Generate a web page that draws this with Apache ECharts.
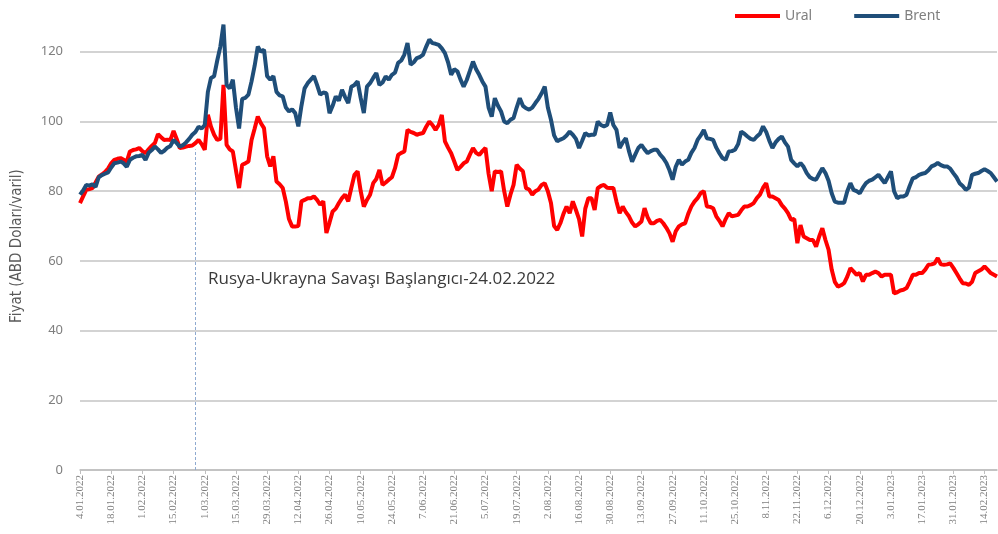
<!DOCTYPE html>
<html>
<head>
<meta charset="utf-8">
<script src="https://cdn.jsdelivr.net/npm/echarts@6/dist/echarts.min.js"></script>
<style>
  html, body { margin: 0; padding: 0; background: #fff; }
  #chart { width: 998px; height: 534px; }
</style>
</head>
<body>
<div id="chart"></div>
<script>
// Ural ve Brent günlük fiyatları (ABD Doları/varil), 4.01.2022'den itibaren iş günleri
const ural = [
  76.6, 78.5, 80.4, 80.6, 80.9, 82.5, 84.2, 84.8, 85.5, 86.5,
  88.0, 89.0, 89.3, 89.5, 89.0, 88.5, 91.4, 91.8, 92.0, 92.4,
  91.5, 90.9, 92.0, 93.0, 93.8, 96.4, 95.5, 94.7, 94.8, 94.7,
  97.3, 95.0, 92.4, 92.5, 92.8, 93.0, 93.1, 93.8, 94.7, 93.5,
  91.9, 101.9, 98.5, 96.2, 94.7, 95.0, 110.5, 93.3, 92.0, 91.4,
  86.0, 80.9, 87.6, 88.0, 88.5, 94.7, 98.0, 101.4, 99.5, 98.1,
  90.0, 87.1, 90.0, 82.8, 82.0, 80.9, 77.0, 72.0, 69.9, 69.9,
  70.0, 77.1, 77.5, 78.0, 78.0, 78.5, 77.5, 76.1, 77.1, 68.0,
  71.0, 74.2, 75.0, 76.6, 78.0, 79.0, 77.1, 81.0, 84.7, 85.7,
  80.0, 75.6, 77.5, 79.0, 82.3, 83.5, 86.1, 81.8, 82.5, 83.3,
  84.0, 86.6, 90.4, 91.0, 91.4, 97.6, 97.0, 96.7, 96.2, 96.5,
  96.7, 98.5, 100.0, 99.0, 97.6, 99.0, 101.9, 94.3, 92.5, 90.9,
  88.5, 86.1, 87.0, 88.0, 88.5, 90.5, 92.4, 91.0, 90.4, 91.5,
  92.4, 85.0, 80.0, 85.7, 85.5, 85.7, 80.0, 75.6, 79.0, 81.8,
  87.6, 86.5, 85.7, 80.9, 80.5, 79.0, 80.0, 80.5, 81.8, 82.3,
  80.0, 76.6, 70.0, 68.9, 70.8, 73.5, 75.6, 73.7, 77.1, 74.6,
  72.0, 67.0, 75.0, 78.0, 78.0, 74.6, 80.9, 81.5, 81.8, 81.0,
  80.9, 80.9, 77.0, 73.7, 75.6, 74.0, 72.8, 71.0, 69.9, 70.5,
  71.3, 75.1, 72.5, 70.8, 70.8, 71.5, 71.8, 70.8, 69.5, 67.9,
  65.5, 68.5, 69.9, 70.5, 70.8, 73.5, 75.6, 77.0, 78.0, 79.5,
  80.0, 75.6, 75.5, 75.1, 72.8, 71.5, 69.9, 72.0, 73.7, 72.8,
  73.0, 73.2, 74.5, 75.6, 75.6, 76.0, 76.6, 78.0, 79.0, 81.0,
  82.3, 78.5, 78.5, 78.0, 77.5, 76.0, 75.0, 73.7, 71.8, 72.0,
  65.1, 70.3, 67.0, 66.5, 66.0, 66.0, 64.1, 67.0, 69.4, 66.0,
  63.2, 57.5, 54.0, 52.6, 53.0, 53.6, 55.5, 57.9, 57.0, 56.0,
  56.5, 54.1, 56.0, 56.0, 56.5, 56.9, 56.5, 55.5, 56.0, 56.0,
  56.0, 50.7, 51.0, 51.5, 51.7, 52.2, 54.0, 56.0, 56.0, 56.5,
  56.5, 57.5, 58.9, 59.0, 59.3, 60.8, 59.0, 58.9, 59.0, 59.3,
  58.0, 56.5, 55.0, 53.6, 53.5, 53.1, 54.0, 56.5, 57.0, 57.5,
  58.4, 57.5, 56.5, 56.0, 55.5
];

const brent = [
  79.0, 80.2, 81.8, 81.6, 82.0, 81.2, 84.0, 84.6, 85.0, 85.4,
  86.8, 88.0, 88.2, 88.5, 88.0, 87.0, 89.0, 89.6, 90.0, 90.1,
  90.4, 89.0, 91.0, 91.8, 92.8, 92.0, 91.0, 91.6, 92.5, 93.0,
  94.7, 93.8, 92.8, 93.2, 94.0, 95.0, 96.2, 97.0, 98.5, 98.0,
  99.0, 108.5, 112.5, 113.0, 117.5, 121.5, 127.8, 110.5, 109.5, 112.0,
  104.0, 98.0, 106.5, 106.8, 107.7, 111.5, 116.0, 121.5, 120.0, 120.6,
  113.0, 112.0, 113.0, 108.5, 107.5, 107.2, 104.0, 102.9, 103.5, 102.4,
  98.6, 104.5, 109.5, 111.0, 112.0, 113.0, 110.5, 107.7, 108.3, 108.1,
  102.4, 104.5, 107.2, 106.0, 109.1, 107.0, 105.3, 110.0, 110.5, 111.5,
  106.7, 102.4, 110.0, 111.0, 112.5, 113.9, 110.5, 111.2, 112.9, 112.0,
  113.4, 114.0, 116.8, 117.5, 119.2, 122.5, 116.3, 117.0, 118.2, 118.5,
  119.2, 121.5, 123.5, 122.5, 122.3, 122.0, 121.0, 119.6, 117.0, 113.4,
  115.0, 114.4, 112.0, 110.0, 111.9, 114.5, 117.2, 115.0, 113.4, 111.5,
  110.0, 104.0, 101.4, 106.7, 104.5, 102.9, 100.0, 99.5, 100.5, 101.0,
  104.0, 106.7, 104.5, 103.8, 103.4, 104.0, 105.3, 106.5, 108.1, 110.0,
  104.0, 100.5, 96.0, 94.3, 94.8, 95.2, 96.0, 97.1, 96.2, 95.0,
  92.4, 94.5, 96.7, 96.0, 96.2, 96.2, 100.0, 99.0, 98.6, 99.0,
  102.6, 99.0, 97.6, 92.4, 94.0, 95.2, 91.5, 88.5, 90.5, 92.4,
  93.3, 92.0, 90.9, 91.5, 91.9, 91.9, 90.5, 89.5, 88.1, 86.0,
  83.3, 87.0, 89.0, 87.6, 88.5, 89.0, 91.0, 92.4, 94.7, 96.0,
  97.6, 95.2, 95.0, 94.7, 92.5, 90.9, 89.5, 89.0, 91.4, 91.5,
  91.9, 93.5, 97.1, 96.5, 95.7, 95.0, 94.7, 95.7, 96.5, 98.6,
  97.0, 94.5, 92.4, 94.0, 95.0, 95.7, 94.0, 92.8, 89.0, 88.0,
  87.1, 88.1, 87.0, 85.2, 84.0, 83.5, 83.3, 85.0, 86.6, 85.2,
  83.0, 79.4, 77.0, 76.7, 76.7, 76.7, 80.0, 82.3, 80.4, 80.0,
  79.4, 81.0, 82.3, 83.0, 83.3, 84.0, 84.7, 83.5, 82.3, 84.0,
  85.7, 80.0, 78.0, 78.5, 78.5, 79.0, 81.5, 83.7, 84.0, 84.7,
  85.0, 85.2, 86.0, 87.1, 87.5, 88.1, 87.5, 87.1, 87.1, 86.5,
  85.2, 84.0, 82.3, 81.5, 80.4, 81.0, 84.7, 85.0, 85.2, 85.8,
  86.3, 85.8, 85.2, 84.0, 82.8
];

// tarih etiketleri: 4.01.2022'den başlayan iş günleri
const firstDay = new Date(2022, 0, 4);
const dates = [];
for (let d = new Date(firstDay); dates.length < brent.length; d.setDate(d.getDate() + 1)) {
  const wd = d.getDay();
  if (wd === 0 || wd === 6) continue;
  dates.push(d.getDate() + "." + String(d.getMonth() + 1).padStart(2, "0") + "." + d.getFullYear());
}

const warStart = "24.02.2022";
const warLabel = "Rusya-Ukrayna Savaşı Başlangıcı-24.02.2022";
const yTitle = "Fiyat (ABD Doları/varil)";

const chart = echarts.init(document.getElementById("chart"));

chart.setOption({
  animation: false,
  grid: { left: 80, right: 1, top: 3, bottom: 64 },
  legend: {
    left: 730,
    top: 4,
    icon: "rect",
    itemWidth: 45,
    itemHeight: 4,
    itemGap: 42,
    textStyle: { fontSize: 14, color: "#7f7f7f", fontFamily: "Noto Sans" },
    data: ["Ural", "Brent"]
  },
  xAxis: {
    type: "category",
    data: dates,
    boundaryGap: false,
    axisLine: { lineStyle: { color: "#bfbfbf", width: 1.5 } },
    axisTick: { interval: 9, length: 4, lineStyle: { color: "#bfbfbf" } },
    axisLabel: {
      interval: 9,
      rotate: 90,
      margin: 5,
      fontSize: 11,
      fontFamily: "Liberation Serif",
      color: "#7f7f7f"
    },
    splitLine: { show: false }
  },
  yAxis: {
    type: "value",
    min: 0,
    max: 134,
    interval: 20,
    axisLine: { show: false },
    axisTick: { show: false },
    axisLabel: { showMaxLabel: false, margin: 17, fontSize: 13, color: "#7f7f7f", fontFamily: "Noto Sans" },
    splitLine: { showMaxLine: false, lineStyle: { color: "#c4c4c4", width: 1.5 } }
  },
  series: [
    {
      name: "Ural",
      type: "line",
      data: ural,
      showSymbol: false,
      lineStyle: { width: 4, color: "#ff0000" },
      itemStyle: { color: "#ff0000" },
      markLine: {
        silent: true,
        symbol: "none",
        label: { show: false },
        lineStyle: { color: "#8faad0", width: 1, type: [3, 2] },
        data: [[{ coord: [warStart, 0] }, { coord: [warStart, 92] }]]
      }
    },
    {
      name: "Brent",
      type: "line",
      data: brent,
      showSymbol: false,
      lineStyle: { width: 4, color: "#1f4e79" },
      itemStyle: { color: "#1f4e79" }
    }
  ],
  graphic: [
    {
      type: "text",
      x: 208,
      y: 271,
      style: {
        text: warLabel,
        font: "17px 'Open Sans'",
        fill: "#3a3a3a"
      }
    },
    {
      type: "text",
      x: 17,
      y: 246,
      rotation: Math.PI / 2,
      style: {
        text: yTitle,
        font: "15px 'Liberation Sans Narrow', 'DejaVu Sans Condensed'",
        fill: "#595959",
        align: "center",
        verticalAlign: "middle"
      }
    }
  ]
});
</script>
</body>
</html>
